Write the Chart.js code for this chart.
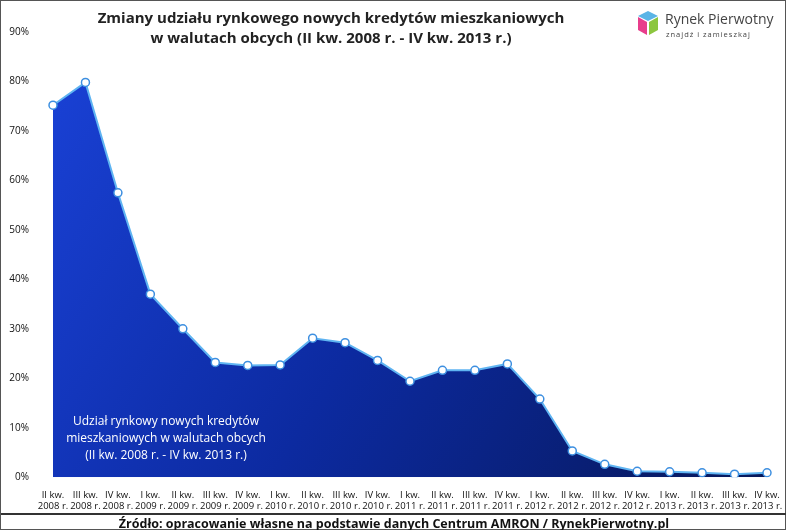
<!DOCTYPE html>
<html><head><meta charset="utf-8">
<script src="https://cdn.jsdelivr.net/npm/chart.js@4"></script>
<style>
body{margin:0;background:#fff;font-family:"Open Sans",sans-serif}
#wrap{position:relative;width:786px;height:530px;box-sizing:border-box;border:1px solid #555}
canvas{position:absolute;left:0;top:0}
.t{position:absolute;left:60px;width:540px;top:6px;text-align:center;font-weight:bold;font-size:15px;line-height:20px;color:#222}
.note{position:absolute;left:60px;width:210px;top:411px;text-align:center;color:#fff;font-size:12px;line-height:17px}
.src{position:absolute;left:0;width:786px;top:512px;border-top:2px solid #333;text-align:center;font-weight:bold;font-size:12.5px;line-height:17px;color:#111}
.logo{position:absolute;left:636px;top:8px;width:145px;height:34px;white-space:nowrap}
.logo .b{position:absolute;left:0;top:0;width:22px;height:30px}
.logo .n{position:absolute;left:28px;top:0;font-size:14px;color:#444}
.logo .s{position:absolute;left:29px;top:20px;font-size:7.5px;letter-spacing:1px;color:#444}
</style></head><body>
<div id="wrap">
<canvas id="c" width="786" height="530"></canvas>
<div class="t">Zmiany udziału rynkowego nowych kredytów mieszkaniowych<br>w walutach obcych (II kw. 2008 r. - IV kw. 2013 r.)</div>
<div class="note">Udział rynkowy nowych kredytów mieszkaniowych w walutach obcych (II kw. 2008 r. - IV kw. 2013 r.)</div>
<div class="logo"><svg class="b" viewBox="0 0 22 30"><polygon points="11,2 21,7 11,12 1,7" fill="#5ab4e6"/><polygon points="1,8 10,13 10,26 1,21" fill="#e83e8c"/><polygon points="12,13 21,8 21,21 12,26" fill="#8cc63f"/></svg><div class="n">Rynek Pierwotny</div><div class="s">znajdź i zamieszkaj</div></div>
<div class="src">Źródło: opracowanie własne na podstawie danych Centrum AMRON / RynekPierwotny.pl</div>
</div>
<script>
const quarters=["II kw.","III kw.","IV kw.","I kw.","II kw.","III kw.","IV kw.","I kw.","II kw.","III kw.","IV kw.","I kw.","II kw.","III kw.","IV kw.","I kw.","II kw.","III kw.","IV kw.","I kw.","II kw.","III kw.","IV kw."];
const years=["2008 r.","2008 r.","2008 r.","2009 r.","2009 r.","2009 r.","2009 r.","2010 r.","2010 r.","2010 r.","2010 r.","2011 r.","2011 r.","2011 r.","2011 r.","2012 r.","2012 r.","2012 r.","2012 r.","2013 r.","2013 r.","2013 r.","2013 r."];
const shares=[75.2,79.8,57.5,37.0,30.0,23.2,22.6,22.7,28.1,27.2,23.6,19.4,21.6,21.6,22.9,15.8,5.3,2.6,1.2,1.1,0.9,0.6,0.9];
const yTicks=[0,10,20,30,40,50,60,70,80,90];
const labels=quarters.map((q,i)=>[q,years[i]]);
new Chart(document.getElementById('c'),{
type:'line',
data:{labels,datasets:[{data:shares,borderColor:'#5fb4f2',borderWidth:2,tension:0,
 pointRadius:4,pointBackgroundColor:'#fff',pointBorderColor:'#3d8fe0',pointBorderWidth:1.5,
 fill:'origin',
 backgroundColor:(ctx)=>{const a=ctx.chart.chartArea;if(!a)return '#1233b0';
   const g=ctx.chart.ctx.createLinearGradient(a.left,a.top,a.right,a.bottom);
   g.addColorStop(0,'#1a42d8');g.addColorStop(0.5,'#0c2aa0');g.addColorStop(1,'#07185a');return g;}}]},
options:{responsive:false,animation:false,
 layout:{padding:{top:31,right:20,bottom:15,left:2}},
 plugins:{legend:{display:false},tooltip:{enabled:false}},
 scales:{
  x:{offset:false,grid:{display:false},border:{display:false},
     ticks:{color:'#111',font:{family:'Open Sans',size:9.5},maxRotation:0,autoSkip:false,padding:4}},
  y:{min:0,max:90,afterBuildTicks:s=>{s.ticks=yTicks.map(v=>({value:v}));},
     afterFit:s=>{s.width=50;},grid:{display:false},border:{display:false},
     ticks:{color:'#111',font:{family:'Open Sans',size:10},callback:v=>v+'%',padding:16}}
 }}
});
</script>
</body></html>
